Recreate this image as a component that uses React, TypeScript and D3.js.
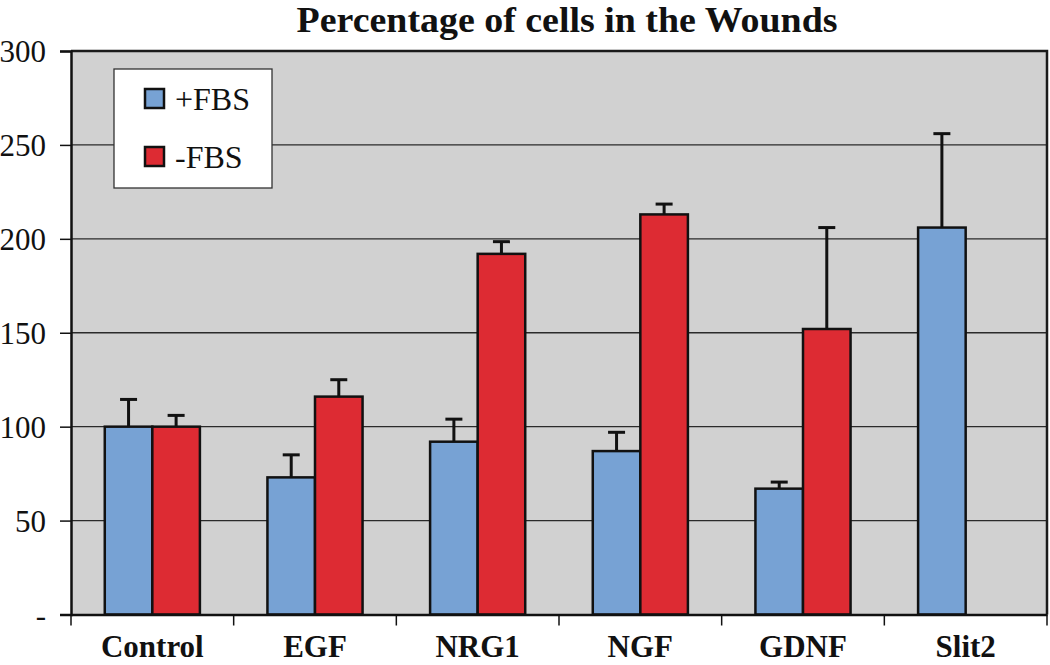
import React, { useEffect, useRef } from 'react';
import * as d3 from 'd3';

// bar chart: percentage of cells in the wounds, +FBS / -FBS with error bars

const categories = ['Control', 'EGF', 'NRG1', 'NGF', 'GDNF', 'Slit2'];
const seriesNames = ['+FBS', '-FBS'];
const plusFBS = [100, 73, 92, 87, 67, 206];
const plusFBSErr = [14.5, 12, 12, 10, 3.5, 50];
const minusFBS = [100, 116, 192, 213, 152, null];
const minusFBSErr = [6, 9, 6.5, 5.5, 54, null];
const yTicks = [0, 50, 100, 150, 200, 250, 300];
const yTickLabels = ['-', '50', '100', '150', '200', '250', '300'];

const colors = ['#77a2d4', '#dd2b33'];

const App = () => {
  const svgRef = useRef(null);

  useEffect(() => {
    const width = 1050;
    const height = 665;
    const left = 71, right = 1047, top = 51, bottom = 614.5;
    const serif = '"Liberation Serif", "Times New Roman", serif';

    const svg = d3.select(svgRef.current)
      .attr('width', width)
      .attr('height', height);
    svg.selectAll('*').remove();

    const x0 = d3.scaleBand().domain(categories).range([left, right]).padding(0);
    const x1 = d3.scaleBand().domain(seriesNames).range([0, x0.bandwidth()])
      .paddingInner(0).paddingOuter(0.71);
    const y = d3.scaleLinear().domain([0, 300]).range([bottom, top]);

    // plot background
    svg.append('rect')
      .attr('x', left).attr('y', top)
      .attr('width', right - left).attr('height', bottom - top)
      .attr('fill', '#d1d1d1');

    // gridlines
    svg.append('g')
      .selectAll('line')
      .data(yTicks.filter(t => t > 0 && t < 300))
      .enter()
      .append('line')
      .attr('x1', left).attr('x2', right)
      .attr('y1', d => y(d)).attr('y2', d => y(d))
      .attr('stroke', '#2a2a2a')
      .attr('stroke-width', 1.3);

    // legend
    const lg = svg.append('g');
    lg.append('rect')
      .attr('x', 114).attr('y', 69).attr('width', 158).attr('height', 119)
      .attr('fill', '#fff').attr('stroke', '#333').attr('stroke-width', 1.3);
    seriesNames.forEach((s, i) => {
      const yy = 89 + i * 58;
      lg.append('rect')
        .attr('x', 145).attr('y', yy).attr('width', 19).attr('height', 19)
        .attr('fill', colors[i]).attr('stroke', '#111').attr('stroke-width', 2.5);
      lg.append('text')
        .attr('x', 175).attr('y', yy + 21)
        .attr('font-family', serif).attr('font-size', 32)
        .attr('fill', '#111')
        .text(s);
    });

    const allSeries = [
      { name: '+FBS', values: plusFBS, errs: plusFBSErr, color: colors[0] },
      { name: '-FBS', values: minusFBS, errs: minusFBSErr, color: colors[1] },
    ];

    // error bars
    allSeries.forEach(s => {
      const g = svg.append('g');
      categories.forEach((c, i) => {
        const v = s.values[i];
        const e = s.errs[i];
        if (v == null || e == null) return;
        const cx = x0(c) + x1(s.name) + x1.bandwidth() / 2;
        g.append('line')
          .attr('x1', cx).attr('x2', cx)
          .attr('y1', y(v)).attr('y2', y(v + e))
          .attr('stroke', '#111').attr('stroke-width', 3);
        g.append('line')
          .attr('x1', cx - 8.5).attr('x2', cx + 8.5)
          .attr('y1', y(v + e)).attr('y2', y(v + e))
          .attr('stroke', '#111').attr('stroke-width', 3);
      });
    });

    // bars
    allSeries.forEach(s => {
      svg.append('g')
        .selectAll('rect')
        .data(categories.map((c, i) => ({ c, v: s.values[i] })).filter(d => d.v != null))
        .enter()
        .append('rect')
        .attr('x', d => x0(d.c) + x1(s.name))
        .attr('y', d => y(d.v))
        .attr('width', x1.bandwidth())
        .attr('height', d => bottom - y(d.v))
        .attr('fill', s.color)
        .attr('stroke', '#111')
        .attr('stroke-width', 2.5);
    });

    // plot frame top/right
    svg.append('path')
      .attr('d', `M${left},${top}H${right}V${bottom}`)
      .attr('fill', 'none').attr('stroke', '#1a1a1a').attr('stroke-width', 2.5);

    // y axis
    const yAxis = svg.append('g')
      .attr('transform', `translate(${left},0)`)
      .call(d3.axisLeft(y).tickValues(yTicks).tickSize(11).tickPadding(14)
        .tickFormat((d, i) => yTickLabels[i]));
    yAxis.select('.domain').attr('stroke', '#111').attr('stroke-width', 2.5);
    yAxis.selectAll('.tick line').attr('stroke', '#111').attr('stroke-width', 1.5);
    yAxis.selectAll('.tick text')
      .attr('font-family', serif).attr('font-size', 31).attr('fill', '#111')
      .attr('dy', '0.35em')
      .attr('x', -25);

    // x axis with ticks at category boundaries
    const xAxis = svg.append('g')
      .attr('transform', `translate(0,${bottom})`)
      .call(d3.axisBottom(x0).tickSize(0));
    xAxis.select('.domain').attr('stroke', '#111').attr('stroke-width', 2.5);
    xAxis.selectAll('.tick text')
      .attr('y', 42.5).attr('dy', 0)
      .attr('font-family', serif).attr('font-size', 31).attr('font-weight', 'bold')
      .attr('fill', '#111');
    const bounds = categories.map(c => x0(c)).concat([right]);
    xAxis.append('g')
      .selectAll('line')
      .data(bounds)
      .enter()
      .append('line')
      .attr('x1', d => d).attr('x2', d => d)
      .attr('y1', 0).attr('y2', 11)
      .attr('stroke', '#111').attr('stroke-width', 1.5);

    // title
    svg.append('text')
      .attr('x', 567).attr('y', 31.5)
      .attr('text-anchor', 'middle')
      .attr('font-family', serif).attr('font-size', 35).attr('font-weight', 'bold')
      .attr('textLength', 541).attr('lengthAdjust', 'spacingAndGlyphs')
      .attr('fill', '#111')
      .text('Percentage of cells in the Wounds');
  }, []);

  return (
    <div style={{ position: 'absolute', left: 0, top: 0 }}>
      <svg ref={svgRef}></svg>
    </div>
  );
};

export default App;
